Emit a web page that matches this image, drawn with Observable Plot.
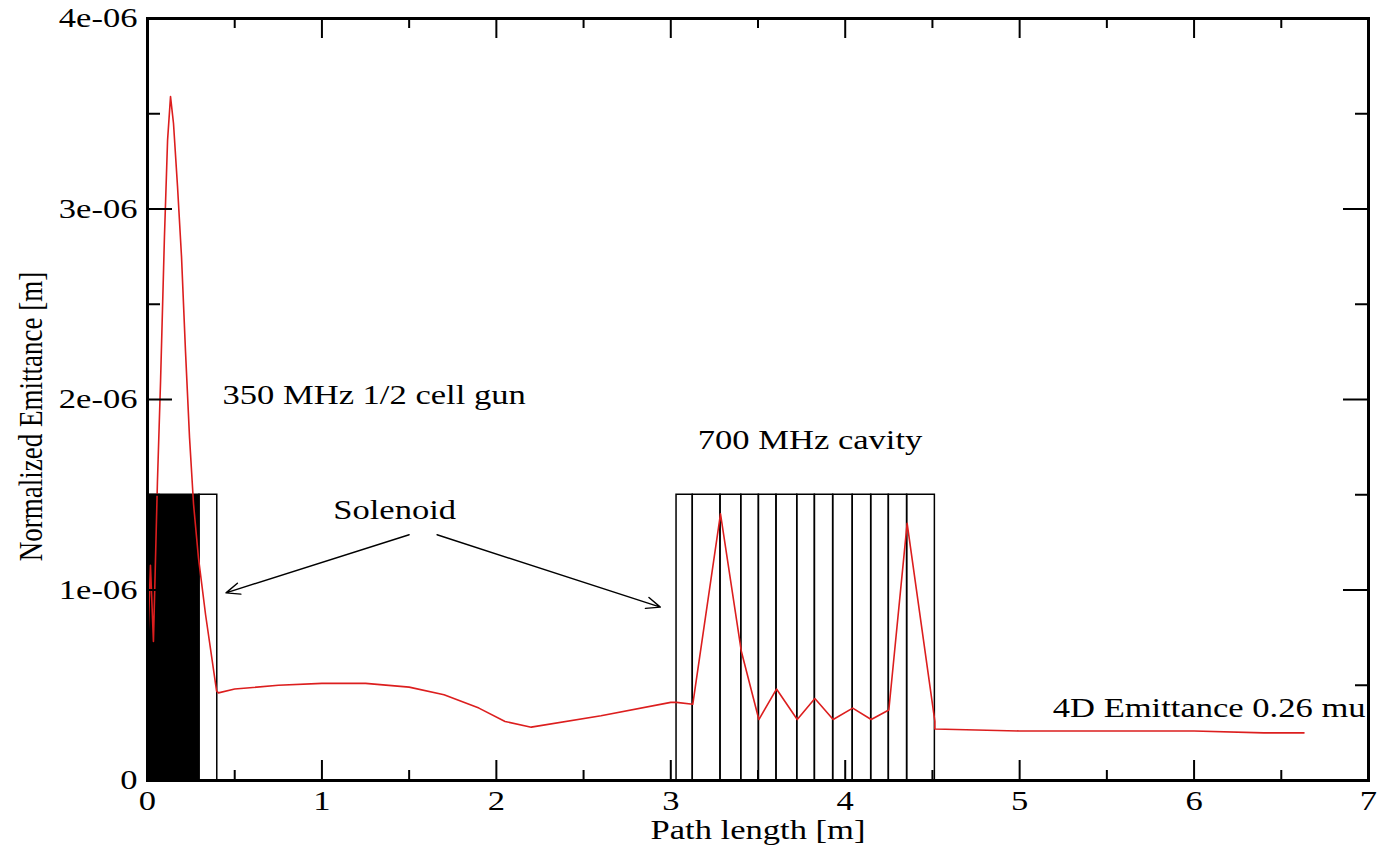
<!DOCTYPE html>
<html>
<head>
<meta charset="utf-8">
<script src="https://cdn.jsdelivr.net/npm/d3@7"></script>
<script src="https://cdn.jsdelivr.net/npm/@observablehq/plot@0.6"></script>
<style>
  html, body { margin: 0; padding: 0; background: white; }
  #chart { position: absolute; left: 0; top: 0; }
</style>
</head>
<body>
<div id="chart"></div>
<script>
// ---- data ----
const pathLength = [0, 0.017, 0.034, 0.057, 0.075, 0.097, 0.115, 0.132, 0.149, 0.172,
  0.195, 0.218, 0.241, 0.264, 0.292, 0.333, 0.396, 0.407, 0.5, 0.75,
  1.0, 1.25, 1.5, 1.7, 1.9, 2.05, 2.2, 2.6, 3.0, 3.033,
  3.126, 3.285, 3.404, 3.505, 3.606, 3.725, 3.826, 3.931, 4.043, 4.149,
  4.25, 4.355, 4.514, 4.514, 5.0, 6.0, 6.4, 6.63];
const emittance = [0.68e-6, 1.13e-6, 0.73e-6, 1.57e-6, 2.10e-6, 2.85e-6, 3.36e-6, 3.59e-6, 3.45e-6, 3.12e-6,
  2.75e-6, 2.25e-6, 1.80e-6, 1.45e-6, 1.17e-6, 0.87e-6, 0.47e-6, 0.46e-6, 0.48e-6, 0.50e-6,
  0.51e-6, 0.51e-6, 0.49e-6, 0.45e-6, 0.38e-6, 0.31e-6, 0.28e-6, 0.34e-6, 0.41e-6, 0.41e-6,
  0.40e-6, 1.40e-6, 0.68e-6, 0.32e-6, 0.48e-6, 0.32e-6, 0.43e-6, 0.32e-6, 0.38e-6, 0.32e-6,
  0.37e-6, 1.35e-6, 0.31e-6, 0.27e-6, 0.26e-6, 0.26e-6, 0.25e-6, 0.25e-6];

// gun: filled region and solenoid box
const gunStart = [0];
const gunEnd = [0.298];
const solenoidStart = [0.298];
const solenoidEnd = [0.40];
const elementHeight = [1.5e-6];
// 700 MHz cavity cell boundaries
const cavityEdges = [3.033, 3.126, 3.285, 3.404, 3.505, 3.606, 3.725, 3.826, 3.931, 4.043, 4.149, 4.250, 4.355, 4.514];

// ticks
const xMajor = [0, 1, 2, 3, 4, 5, 6, 7];
const xMinor = [0.5, 1.5, 2.5, 3.5, 4.5, 5.5, 6.5];
const yMajor = [0, 1e-6, 2e-6, 3e-6, 4e-6];
const yMinor = [0.5e-6, 1.5e-6, 2.5e-6, 3.5e-6];
const yTickLabels = ["0", "1e-06", "2e-06", "3e-06", "4e-06"];

// annotations (left edge of each text)
const noteText = ["350 MHz 1/2 cell gun", "700 MHz cavity", "Solenoid", "4D Emittance 0.26 mu"];
const noteX = [0.43, 3.155, 1.065, 5.19];
const noteY = [2.02e-6, 1.785e-6, 1.417e-6, 0.378e-6];

const arrowX1 = [1.50, 1.66];
const arrowY1 = [1.29e-6, 1.29e-6];
const arrowX2 = [0.45, 2.94];
const arrowY2 = [0.985e-6, 0.91e-6];

// ---- build tables ----
const curve = pathLength.map((x, i) => ({x, y: emittance[i]}));
const cells = cavityEdges.slice(0, -1).map((x1, i) => ({x1, x2: cavityEdges[i + 1], y2: elementHeight[0]}));
const gun = gunStart.map((x1, i) => ({x1, x2: gunEnd[i], y2: elementHeight[0]}));
const solenoid = solenoidStart.map((x1, i) => ({x1, x2: solenoidEnd[i], y2: elementHeight[0]}));
const notes = noteText.map((t, i) => ({t, x: noteX[i], y: noteY[i]}));
const arrows = arrowX1.map((x1, i) => ({x1, y1: arrowY1[i], x2: arrowX2[i], y2: arrowY2[i]}));
const yLabelData = yMajor.map((y, i) => ({y, t: yTickLabels[i]}));

const W = 1383, H = 854, ML = 147, MR = 15, MT = 18, MB = 74;
const PW = W - ML - MR, PH = H - MT - MB;
const FS = 27;

const svg = Plot.plot({
  width: W, height: H,
  marginLeft: ML, marginRight: MR, marginTop: MT, marginBottom: MB,
  x: {domain: [0, 7], axis: null},
  y: {domain: [0, 4e-6], axis: null},
  style: {fontFamily: "'Liberation Serif', 'Times New Roman', serif", fontSize: FS + "px", color: "black", background: "white"},
  marks: [
    Plot.rect(gun, {x1: "x1", x2: "x2", y1: 0, y2: "y2", fill: "black", stroke: "black", strokeWidth: 1.5}),
    Plot.rect(solenoid, {x1: "x1", x2: "x2", y1: 0, y2: "y2", fill: "none", stroke: "black", strokeWidth: 1.5}),
    Plot.rect(cells, {x1: "x1", x2: "x2", y1: 0, y2: "y2", fill: "none", stroke: "black", strokeWidth: 1.5}),
    Plot.line(curve, {x: "x", y: "y", stroke: "#dc1e1e", strokeWidth: 1.6}),
    // ticks (inward, mirrored)
    Plot.tickX(xMajor, {x: d => d, insetTop: PH - 20, stroke: "black", strokeWidth: 2}),
    Plot.tickX(xMajor, {x: d => d, insetBottom: PH - 20, stroke: "black", strokeWidth: 2}),
    Plot.tickX(xMinor, {x: d => d, insetTop: PH - 10, stroke: "black", strokeWidth: 2}),
    Plot.tickX(xMinor, {x: d => d, insetBottom: PH - 10, stroke: "black", strokeWidth: 2}),
    Plot.tickY(yMajor, {y: d => d, insetRight: PW - 25, stroke: "black", strokeWidth: 2}),
    Plot.tickY(yMajor, {y: d => d, insetLeft: PW - 25, stroke: "black", strokeWidth: 2}),
    Plot.tickY(yMinor, {y: d => d, insetRight: PW - 13, stroke: "black", strokeWidth: 2}),
    Plot.tickY(yMinor, {y: d => d, insetLeft: PW - 13, stroke: "black", strokeWidth: 2}),
    Plot.frame({stroke: "black", strokeWidth: 3}),
    // tick labels
    Plot.text(xMajor, {x: d => d, frameAnchor: "bottom", lineAnchor: "top", dy: 10, text: d => String(d), fontSize: FS, fill: "black"}),
    Plot.text(yLabelData, {y: "y", frameAnchor: "left", textAnchor: "end", dx: -10, text: "t", fontSize: FS, fill: "black"}),
    // axis titles
    Plot.text(["Path length [m]"], {frameAnchor: "bottom", lineAnchor: "top", dy: 39, text: d => d, fontSize: FS, fill: "black"}),
    Plot.text(["Normalized Emittance [m]"], {frameAnchor: "left", textAnchor: "middle", dx: -117, dy: 17, rotate: -90, text: d => d, fontSize: FS, fill: "black"}),
    // annotations
    Plot.text(notes, {x: "x", y: "y", text: "t", textAnchor: "start", fontSize: FS, fill: "black"}),
    Plot.arrow(arrows, {x1: "x1", y1: "y1", x2: "x2", y2: "y2", stroke: "black", strokeWidth: 1.4, headLength: 16, headAngle: 45, insetStart: 0, insetEnd: 0})
  ]
});

document.getElementById("chart").appendChild(svg);

// the reference is horizontally stretched: widen every text around its anchor point
const SX = 1.28;
svg.querySelectorAll("text").forEach(el => {
  const r = el.getBoundingClientRect();
  const anchor = getComputedStyle(el).textAnchor;
  const rotated = (el.getAttribute("transform") || "").includes("rotate");
  let ax;
  if (rotated || anchor === "middle") ax = r.left + r.width / 2;
  else if (anchor === "end") ax = r.right;
  else ax = r.left;
  const ctm = el.parentNode.getScreenCTM();
  const px = (ax - ctm.e) / ctm.a;
  const g = document.createElementNS("http://www.w3.org/2000/svg", "g");
  g.setAttribute("transform", `translate(${px},0) scale(${SX},1) translate(${-px},0)`);
  el.parentNode.insertBefore(g, el);
  g.appendChild(el);
});
</script>
</body>
</html>
